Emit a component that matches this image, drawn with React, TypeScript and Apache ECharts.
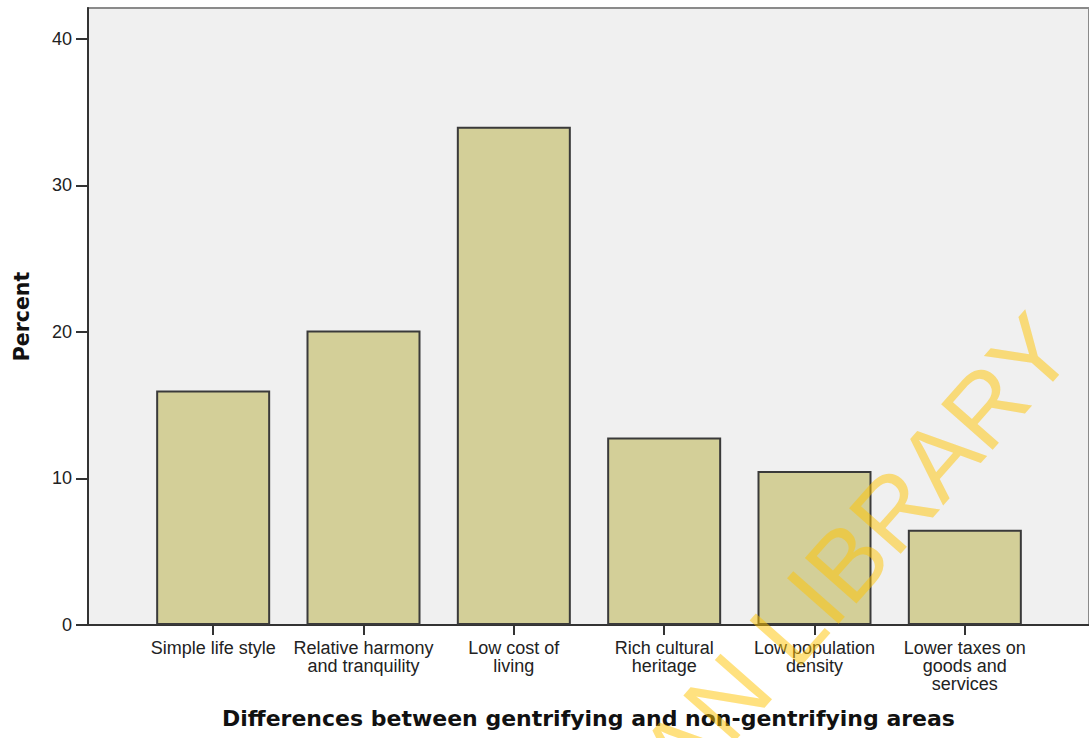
import React, { useEffect, useRef } from "react";
import * as echarts from "echarts";

const categories = [
  "Simple life style",
  "Relative harmony\nand tranquility",
  "Low cost of\nliving",
  "Rich cultural\nheritage",
  "Low population\ndensity",
  "Lower taxes on\ngoods and\nservices",
];
const percentValues = [16.0, 20.1, 34.0, 12.8, 10.5, 6.5];
const yTickValues = [0, 10, 20, 30, 40];
const yMax = 42.1;
const xTitle = "Differences between gentrifying and non-gentrifying areas";
const yTitle = "Percent";
const watermarkText = "UNIVERSITY OF IBADAN LIBRARY";

export default function App() {
  const ref = useRef<HTMLDivElement>(null);
  useEffect(() => {
    if (!ref.current) return;
    const chart = echarts.init(ref.current, undefined, { renderer: "svg" });
    const titleStyle = {
      fontFamily: "DejaVu Sans",
      fontWeight: "bold" as const,
      color: "#111",
    };
    chart.setOption({
      animation: false,
      grid: [
        {
          left: 88,
          top: 8,
          width: 1002,
          height: 617,
          show: true,
          backgroundColor: "#F0F0F0",
          borderColor: "#8a8a8a",
          borderWidth: 2,
        },
        { left: 138, top: 8, width: 902, height: 617 },
      ],
      xAxis: [
        {
          gridIndex: 0,
          type: "value",
          min: 0,
          max: 1,
          axisLine: { show: true, onZero: false, lineStyle: { color: "#333", width: 2 } },
          axisTick: { show: false },
          axisLabel: { show: false },
          splitLine: { show: false },
          name: xTitle,
          nameLocation: "middle",
          nameGap: 82,
          nameTextStyle: { ...titleStyle, fontSize: 22 },
        },
        {
          gridIndex: 1,
          type: "category",
          data: categories,
          axisLine: { show: false },
          axisTick: {
            show: true,
            alignWithLabel: true,
            length: 10,
            lineStyle: { color: "#333", width: 2 },
          },
          axisLabel: {
            interval: 0,
            margin: 14,
            fontFamily: "Liberation Sans",
            fontSize: 18,
            lineHeight: 18,
            color: "#222",
          },
        },
      ],
      yAxis: [
        {
          gridIndex: 0,
          type: "value",
          min: 0,
          max: yMax,
          axisLine: { show: true, lineStyle: { color: "#333", width: 2 } },
          axisTick: {
            show: true,
            length: 12,
            customValues: yTickValues,
            lineStyle: { color: "#333", width: 2 },
          },
          axisLabel: {
            customValues: yTickValues,
            margin: 16,
            fontFamily: "Liberation Sans",
            fontSize: 18,
            color: "#222",
          },
          splitLine: { show: false },
          name: yTitle,
          nameLocation: "middle",
          nameGap: 56,
          nameRotate: 90,
          nameTextStyle: { ...titleStyle, fontSize: 20.5 },
        },
        { gridIndex: 1, type: "value", min: 0, max: yMax, show: false },
      ],
      series: [
        {
          type: "bar",
          xAxisIndex: 1,
          yAxisIndex: 1,
          data: percentValues,
          barWidth: 114,
          itemStyle: { color: "#D3CF98", borderColor: "#3a3a3a", borderWidth: 2 },
        },
      ],
      graphic: [
        {
          type: "text",
          x: 1052,
          y: 330,
          rotation: (48.5 * Math.PI) / 180,
          z: 100,
          silent: true,
          style: {
            text: watermarkText,
            fill: "rgba(255,195,0,0.5)",
            fontFamily: "Liberation Sans",
            fontSize: 100,
            align: "right",
            verticalAlign: "middle",
          },
        },
      ],
    });
    return () => chart.dispose();
  }, []);
  return (
    <div
      ref={ref}
      style={{ position: "absolute", left: 0, top: 0, width: 1089, height: 738 }}
    />
  );
}
